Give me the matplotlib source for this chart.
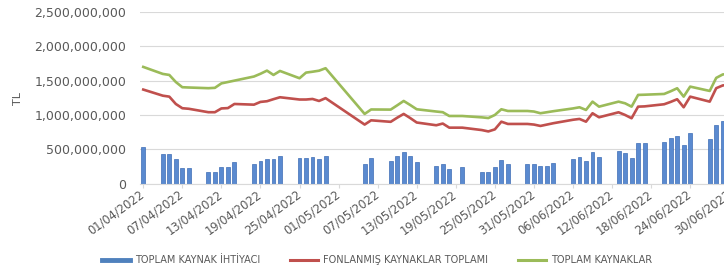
import matplotlib
matplotlib.use("Agg")
import matplotlib.pyplot as plt
import matplotlib.dates as mdates
from matplotlib.lines import Line2D
from matplotlib.ticker import FuncFormatter, FixedLocator
import pandas as pd

dates = [
    "01/04/2022", "04/04/2022", "05/04/2022", "06/04/2022", "07/04/2022", "08/04/2022",
    "11/04/2022", "12/04/2022", "13/04/2022", "14/04/2022", "15/04/2022",
    "18/04/2022", "19/04/2022", "20/04/2022", "21/04/2022", "22/04/2022",
    "25/04/2022", "26/04/2022", "27/04/2022", "28/04/2022", "29/04/2022",
    "05/05/2022", "06/05/2022",
    "09/05/2022", "10/05/2022", "11/05/2022", "12/05/2022", "13/05/2022",
    "16/05/2022", "17/05/2022", "18/05/2022", "20/05/2022",
    "23/05/2022", "24/05/2022", "25/05/2022", "26/05/2022", "27/05/2022",
    "30/05/2022", "31/05/2022", "01/06/2022", "02/06/2022", "03/06/2022",
    "06/06/2022", "07/06/2022", "08/06/2022", "09/06/2022", "10/06/2022",
    "13/06/2022", "14/06/2022", "15/06/2022", "16/06/2022", "17/06/2022",
    "20/06/2022", "21/06/2022", "22/06/2022", "23/06/2022", "24/06/2022",
    "27/06/2022", "28/06/2022", "29/06/2022", "30/06/2022",
]

# TOPLAM KAYNAK İHTİYACI (million TL)
ihtiyac = [
    538, 427, 427, 359, 223, 223,
    165, 165, 238, 242, 319,
    286, 334, 359, 359, 402,
    369, 369, 392, 354, 402,
    286, 369,
    330, 402, 461, 402, 317,
    261, 286, 213, 238,
    174, 174, 238, 344, 286,
    290, 290, 261, 261, 296,
    354, 392, 330, 461, 392,
    475, 442, 378, 596, 596,
    611, 660, 698, 563, 733,
    650, 854, 913, 950,
]

# FONLANMIŞ KAYNAKLAR TOPLAMI (million TL)
fonlanmis = [
    1370, 1281, 1267, 1160, 1098, 1090,
    1040, 1040, 1095, 1100, 1160,
    1150, 1190, 1200, 1230, 1258,
    1225, 1225, 1233, 1204, 1245,
    860, 922,
    900, 960, 1015, 955, 890,
    850, 875, 815, 815,
    780, 760, 790, 902, 869,
    869, 860, 840, 860, 880,
    930, 942, 902, 1025, 966,
    1039, 1000, 952, 1121, 1125,
    1156, 1190, 1229, 1112, 1267,
    1194, 1390, 1430, 1440,
]

# TOPLAM KAYNAKLAR (million TL)
toplam = [
    1700, 1598, 1583, 1480, 1404, 1400,
    1390, 1395, 1460, 1480, 1500,
    1560, 1600, 1646, 1583, 1641,
    1535, 1617, 1630, 1645, 1681,
    1015, 1080,
    1078, 1140, 1204, 1145, 1083,
    1050, 1040, 985, 985,
    965, 955, 1000, 1083, 1058,
    1058, 1050, 1025, 1040, 1055,
    1095, 1112, 1073, 1194, 1121,
    1194, 1170, 1121, 1292, 1295,
    1306, 1345, 1389, 1267, 1413,
    1350, 1540, 1590, 1600,
]

series_names = ["TOPLAM KAYNAK İHTİYACI", "FONLANMIŞ KAYNAKLAR TOPLAMI", "TOPLAM KAYNAKLAR"]
y_ticks = [0, 500_000_000, 1_000_000_000, 1_500_000_000, 2_000_000_000, 2_500_000_000]

x = pd.to_datetime(dates, format="%d/%m/%Y")
scale = 1_000_000
bars = [v * scale for v in ihtiyac]
red = [v * scale for v in fonlanmis]
green = [v * scale for v in toplam]

GRAY = "#595959"
fig = plt.figure(figsize=(7.24, 2.69), dpi=100)
ax = fig.add_axes([140 / 724, (269 - 183.6) / 269, (732.5 - 140) / 724, (183.6 - 12) / 269])

ax.bar(x, bars, width=0.6, color="#5A8AD0", edgecolor="#3E6DB5", linewidth=0.5, zorder=2)
ax.plot(x, red, color="#C0504D", lw=1.9, zorder=3, solid_joinstyle="round")
ax.plot(x, green, color="#9BBB59", lw=1.9, zorder=3, solid_joinstyle="round")

ax.set_ylim(0, 2_500_000_000)
ax.set_yticks(y_ticks)
ax.yaxis.set_major_formatter(FuncFormatter(lambda v, p: f"{int(v):,}"))
ax.grid(axis="y", color="#D9D9D9", lw=0.8, zorder=0)
ax.set_axisbelow(True)

start = pd.Timestamp("2022-04-01")
end = pd.Timestamp("2022-06-30")
ax.set_xlim(start - pd.Timedelta(hours=12), end + pd.Timedelta(hours=12))
ax.xaxis.set_major_locator(FixedLocator(mdates.date2num(pd.date_range(start, end, freq="6D"))))
ax.xaxis.set_major_formatter(mdates.DateFormatter("%d/%m/%Y"))

for s in ["top", "right", "left"]:
    ax.spines[s].set_visible(False)
ax.spines["bottom"].set_color("#D9D9D9")
ax.spines["bottom"].set_linewidth(0.8)

ax.tick_params(axis="y", length=0, pad=10, labelsize=9, labelcolor=GRAY)
ax.tick_params(axis="x", length=3, width=0.8, color="#D9D9D9", pad=4, labelsize=8.3, labelcolor=GRAY)
for lab in ax.get_xticklabels():
    lab.set_rotation(36)
    lab.set_ha("right")
    lab.set_va("center")
    lab.set_rotation_mode("anchor")

fig.text(18 / 724, 1 - 98 / 269, "TL", rotation=90, ha="center", va="center", fontsize=8, color=GRAY)

handles = [
    Line2D([], [], color="#4F81BD", lw=3.5),
    Line2D([], [], color="#C0504D", lw=2.2),
    Line2D([], [], color="#9BBB59", lw=2.2),
]
fig.legend(handles, series_names, loc="center", bbox_to_anchor=(377 / 724, 1 - 260 / 269),
           ncol=3, frameon=False, fontsize=7, labelcolor=GRAY, handlelength=2.9,
           handletextpad=0.5, columnspacing=3.1, borderpad=0, borderaxespad=0)

fig.savefig("out.png", dpi=100)
